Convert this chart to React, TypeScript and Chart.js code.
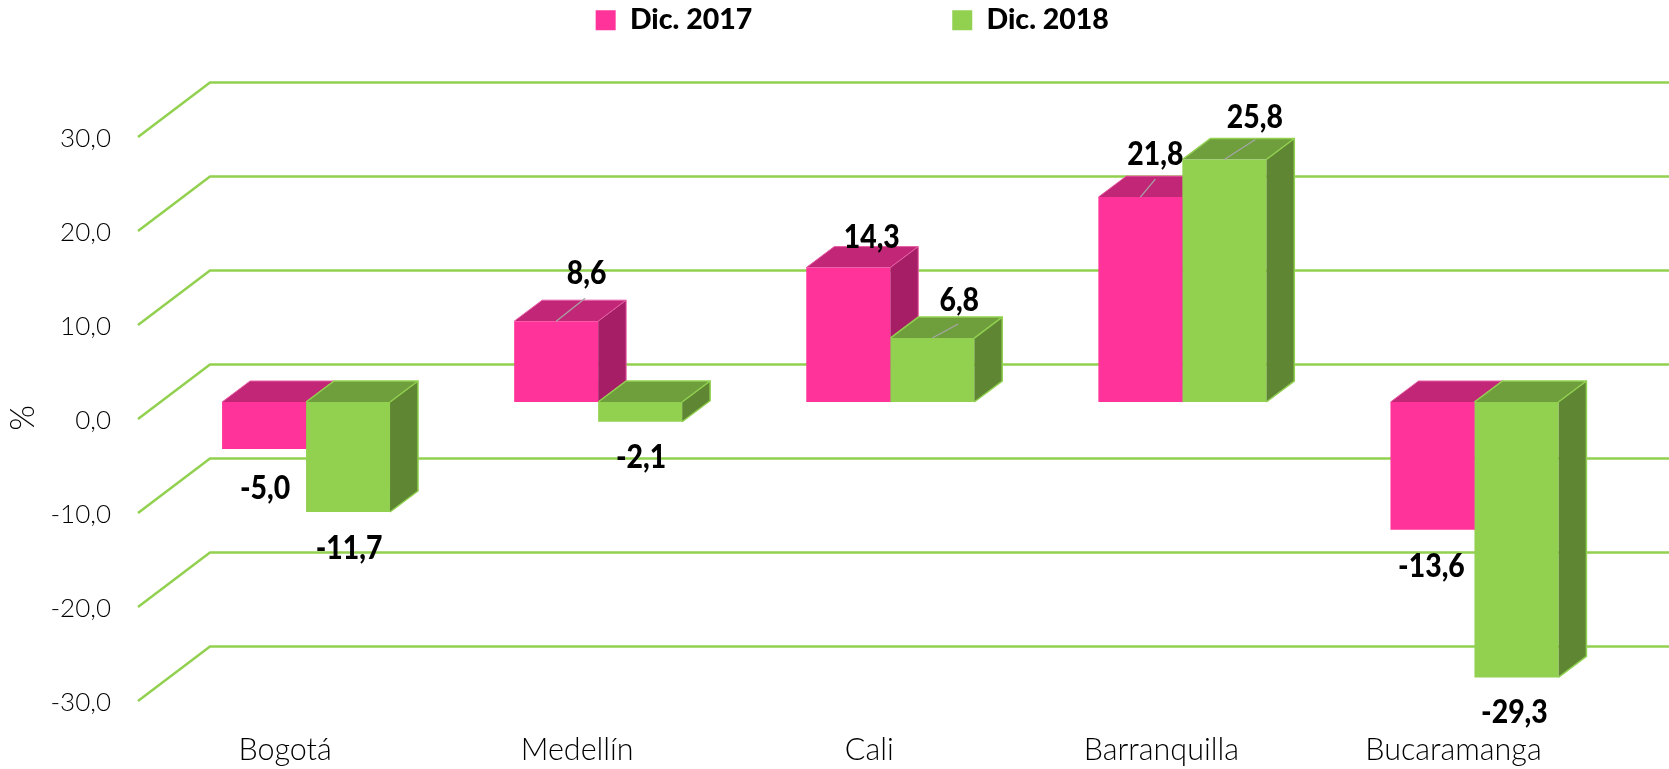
import React, { useEffect, useRef } from "react";
import { Chart, registerables } from "chart.js";

Chart.register(...registerables);

const categories = ["Bogotá", "Medellín", "Cali", "Barranquilla", "Bucaramanga"];
const seriesNames = ["Dic. 2017", "Dic. 2018"];
const values2017 = [-5.0, 8.6, 14.3, 21.8, -13.6];
const values2018 = [-11.7, -2.1, 6.8, 25.8, -29.3];
const axisTitle = "%";

const comma = (v: number) => v.toFixed(1).replace(".", ",");

const LIGHT = '"Lato", sans-serif';
const BOLD = '"Lato", sans-serif';

const PINK = "#FF3399";
const GREEN = "#92D150";
const faces = [
  { top: "#C22677", side: "#A61F66", edge: "#E85FA6", edgeWidth: 1 },
  { top: "#6F9F3D", side: "#5F8733", edge: "#92D150", edgeWidth: 1.5 },
];

// label placement relative to the bar end: dx, dy, and leader line end (dx, dy) if any
const labelPlacement: number[][][] = [
  [[1, 39], [30.5, -48, 29, -23], [23.5, -30], [15, -43, 15, -18], [-1, 37]],
  [[1, 36], [1, 36], [27, -38, 26, -14], [30.5, -42.5, 31, -20], [-2, 35]],
];

const depth3d = {
  id: "depth3d",
  beforeLayout(chart: any) {
    const legend = chart.legend;
    const fit = legend.fit;
    legend.fit = function () {
      fit.call(this);
      this.height = 120;
    };
  },
  afterLayout(chart: any) {
    const legend = chart.legend;
    const pad = legend.options.labels.padding;
    legend.top = 6 - pad;
    legend.bottom = 60;
    legend.left += 42;
    legend.right += 42;
  },
  beforeDatasetsDraw(chart: any) {
    const { ctx } = chart;
    const y = chart.scales.y;
    ctx.save();
    ctx.strokeStyle = GREEN;
    ctx.lineWidth = 2.5;
    y.ticks.forEach((t: any) => {
      const p = y.getPixelForValue(t.value);
      ctx.beginPath();
      ctx.moveTo(138, p + 17);
      ctx.lineTo(210, p - 37.5);
      ctx.lineTo(1669, p - 37.5);
      ctx.stroke();
    });
    const dx = 28;
    const dy = 21;
    [0, 1].forEach((i) => {
      chart.getDatasetMeta(i).data.forEach((bar: any) => {
        const half = bar.width / 2;
        const l = bar.x - half;
        const r = bar.x + half;
        const top = Math.min(bar.y, bar.base);
        const bottom = Math.max(bar.y, bar.base);
        const f = faces[i];
        ctx.fillStyle = f.top;
        ctx.beginPath();
        ctx.moveTo(l, top);
        ctx.lineTo(l + dx, top - dy);
        ctx.lineTo(r + dx, top - dy);
        ctx.lineTo(r, top);
        ctx.closePath();
        ctx.fill();
        ctx.fillStyle = f.side;
        ctx.beginPath();
        ctx.moveTo(r, top);
        ctx.lineTo(r + dx, top - dy);
        ctx.lineTo(r + dx, bottom - dy);
        ctx.lineTo(r, bottom);
        ctx.closePath();
        ctx.fill();
        ctx.strokeStyle = f.edge;
        ctx.lineWidth = f.edgeWidth;
        ctx.beginPath();
        ctx.moveTo(l, top);
        ctx.lineTo(l + dx, top - dy);
        ctx.lineTo(r + dx, top - dy);
        ctx.lineTo(r + dx, bottom - dy);
        ctx.lineTo(r, bottom);
        ctx.moveTo(r, top);
        ctx.lineTo(r + dx, top - dy);
        ctx.stroke();
      });
    });
    ctx.restore();
  },
  afterDatasetsDraw(chart: any) {
    const { ctx } = chart;
    ctx.save();
    [0, 1].forEach((i) => {
      const ds = chart.data.datasets[i];
      chart.getDatasetMeta(i).data.forEach((bar: any, j: number) => {
        const [ox, oy, lx, ly] = labelPlacement[i][j];
        if (lx !== undefined) {
          ctx.strokeStyle = "#A6A6A6";
          ctx.lineWidth = 1.2;
          ctx.beginPath();
          ctx.moveTo(bar.x, bar.y);
          ctx.lineTo(bar.x + lx, bar.y + ly);
          ctx.stroke();
        }
        ctx.save();
        ctx.translate(bar.x + ox, bar.y + oy);
        ctx.scale(0.86, 1);
        ctx.fillStyle = "#000";
        ctx.font = `900 33px ${BOLD}`;
        ctx.textAlign = "center";
        ctx.textBaseline = "middle";
        ctx.fillText(comma(ds.data[j]), 0, 0);
        ctx.restore();
      });
    });
    ctx.translate(23, 418);
    ctx.rotate(-Math.PI / 2);
    ctx.fillStyle = "#000";
    ctx.font = `300 33px ${LIGHT}`;
    ctx.textAlign = "center";
    ctx.textBaseline = "middle";
    ctx.fillText(axisTitle, 0, 0);
    ctx.restore();
  },
};

export default function App() {
  const ref = useRef<HTMLCanvasElement>(null);
  useEffect(() => {
    document.body.style.margin = "0";
    document.body.style.overflow = "hidden";
    const chart = new Chart(ref.current as HTMLCanvasElement, {
      type: "bar",
      data: {
        labels: categories,
        datasets: [
          { label: seriesNames[0], data: values2017, backgroundColor: PINK, borderWidth: 0, categoryPercentage: 0.575, barPercentage: 1 },
          { label: seriesNames[1], data: values2018, backgroundColor: GREEN, borderColor: GREEN, borderWidth: 0, categoryPercentage: 0.575, barPercentage: 1 },
        ],
      },
      options: {
        responsive: false,
        animation: false,
        layout: { padding: { left: 0, right: 48.5, top: 0, bottom: 0 } },
        plugins: {
          tooltip: { enabled: false },
          legend: {
            display: true,
            position: "top",
            onClick: () => {},
            labels: {
              boxWidth: 20,
              boxHeight: 20,
              padding: 200,
              color: "#000",
              font: { family: BOLD, size: 28.5, weight: "900" },
            },
          },
        },
        scales: {
          x: {
            grid: { display: false },
            border: { display: false },
            afterFit: (s: any) => { s.height = 85; },
            ticks: {
              color: "#000",
              padding: 40,
              labelOffset: -21,
              maxRotation: 0,
              font: { family: LIGHT, size: 30.5, weight: "300" },
            },
          } as any,
          y: {
            min: -30,
            max: 30,
            grid: { display: false, drawTicks: false },
            border: { display: false },
            afterFit: (s: any) => { s.width = 160; },
            ticks: {
              stepSize: 10,
              color: "#000",
              padding: 49,
              labelOffset: 19,
              font: { family: LIGHT, size: 26, weight: "300" },
              callback: (v: any) => comma(Number(v)),
            },
          } as any,
        },
      },
      plugins: [depth3d],
    } as any);
    return () => chart.destroy();
  }, []);
  return (
    <div style={{ width: 1669, height: 769, position: "relative", overflow: "hidden" }}>
      <canvas ref={ref} width={1669} height={769} style={{ display: "block" }} />
    </div>
  );
}
